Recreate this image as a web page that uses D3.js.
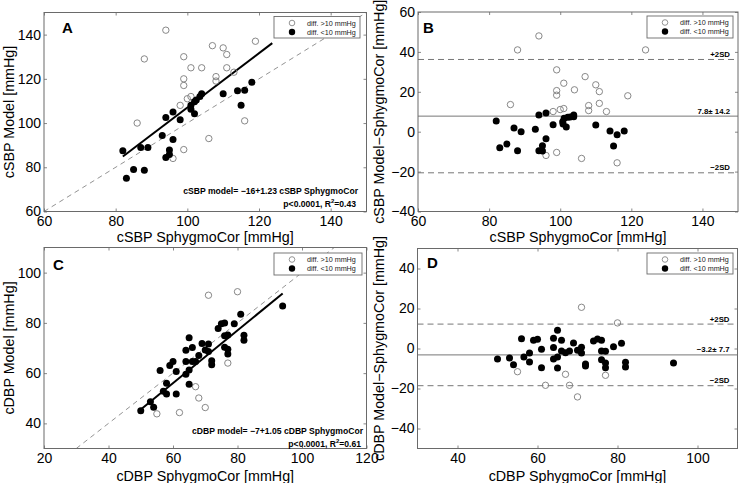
<!DOCTYPE html>
<html><head><meta charset="utf-8">
<script src="https://cdn.jsdelivr.net/npm/d3@7"></script>
<style>
html,body{margin:0;padding:0;background:#fff;}
svg{display:block;font-family:"Liberation Sans",Arial,Helvetica,sans-serif;}
</style></head>
<body><svg id="chart" width="739" height="483"></svg>
<script>
// ---------- DATA ----------
const aOpenX = [94,88,119,107,110,111,99,101,104,111,113,108,108,99,99,101,100,98,86,106,116,99,96];
const aOpenY = [142,129,137,135,134,131,130,125,125,125,123,121,119,120,117,112,111,108,100,93,101,88,84];
const aFillX = [82,83,85,88,87,89,93,94,96,98,96,95,95,94,101,102,102.5,103.5,104,101,102,110,114,116,118,115];
const aFillY = [87.5,75,79,78.6,89,89,94.4,102.5,105,101.5,92.6,87.8,85.8,84.4,108,109.6,110.4,112,113.2,106.2,104.2,113.2,114.6,114.8,118.4,108];

const bOpenX = [94,88,124,99,107,101,110,111,104,99,99,119,86,108,108,111,98,100,101,113,96,99,106,116];
const bOpenY = [48,41,41,31,27.6,24.3,23.5,20.1,21,20.6,18.3,18,13.6,13.1,10.6,14.2,10.1,11.1,11.6,10.1,-11.9,-10.4,-13.4,-15.6];
const bFillX = [82,83,85,87,89,88,93,94,96,98,96,95,94,95,100.7,101.1,102.1,102.8,103.8,103.8,101.7,100.8,110,114,116,118,115];
const bFillY = [5.4,-8,-6.2,1.8,0,-9.5,1.2,8.4,9.4,3.5,-3.5,-7,-9.5,-9.7,5,6.7,7.2,7.4,8.4,7.5,2.3,3.9,3.4,0.3,-1.5,0.3,-7.2];

const cOpenX = [71,80,77,67,68,70,62,55];
const cOpenY = [91,92.4,64,54.6,50.1,46.3,44.3,43.8];
const cFillX = [50,53,54,57,58,58,56,59,60,61,61,64,65,65,64,64,65,66,66,67,68,69,70,71,71,72,72,74,75,76,76,77,76,77,77,79,81,82,82,94];
const cFillY = [45,48.6,46.4,52.8,51.7,56,61,63,64.6,60.6,51.7,59.6,61.2,55.6,64.6,69.1,74.1,70.2,64.6,64.6,67,71.8,69.2,71.6,68.6,64.9,63.3,77.8,79.7,80,74.9,75.2,70.3,69.5,67.6,79.7,83.4,75.1,73.1,86.7];

const dOpenX = [71,80,55,67,77,62,68,70];
const dOpenY = [20.6,12.8,-11.6,-12.9,-13.4,-18.4,-18.4,-24.2];
const dFillX = [50,53,54,56,56.6,58,58,59,60,61,61,64,65,66,64,64,65,65,66,67,68,69,70,71,71,72,72,74,75,76,76,77,76,77,77,79,81,82,82,94];
const dFillY = [-5.2,-4.7,-8.1,4.9,-4.2,-2.2,-6.7,4.1,4.6,-0.4,-9.6,5.1,9.1,4.1,0.5,-5.2,-4.2,-9.7,-1.2,-2.1,-1.2,2.8,-0.9,-2.2,0.6,-7.7,-8.7,3.8,4.8,4.1,-1.2,-1.4,-5.6,-7.2,-9.6,0.9,2.6,-6.9,-9.2,-7.2];

// regression (intercept, slope, x-range)
const aReg = {b0:-16, b1:1.23, x0:82, x1:123.7};
const cReg = {b0:-7, b1:1.05, x0:50, x1:94};
// Bland-Altman stats
const bStats = {mean:7.8, sd:14.2, label:"7.8\u00b1 14.2"};
const dStats = {mean:-3.2, sd:7.7, label:"\u22123.2\u00b1 7.7"};

const ticksA = [60,80,100,120,140];
const ticksBx = [60,80,100,120,140];
const ticksBy = [-40,-20,0,20,40,60];
const ticksCx = [20,40,60,80,100,120];
const ticksCy = [40,60,80,100];
const ticksDx = [40,60,80,100];
const ticksDy = [-40,-20,0,20,40];

const legendLabels = ["diff. >10 mmHg","diff. <10 mmHg"];

// ---------- DRAW ----------
const svg = d3.select("#chart");
const AX = "#6a6a6a";

function panel(cfg){
  const x = d3.scaleLinear().domain(cfg.xd).range(cfg.xr);
  const y = d3.scaleLinear().domain(cfg.yd).range(cfg.yr);
  const g = svg.append("g");
  const clipId = "clip"+cfg.letter;
  g.append("clipPath").attr("id",clipId).append("rect")
    .attr("x",cfg.xr[0]).attr("y",cfg.yr[1]).attr("width",cfg.xr[1]-cfg.xr[0]).attr("height",cfg.yr[0]-cfg.yr[1]);

  const tl = 3;
  const styleAxis = (sel, labels) => {
    sel.select(".domain").remove();
    sel.selectAll(".tick line").attr("stroke",AX).attr("stroke-width",0.8);
    sel.selectAll(".tick text").attr("fill","#000").style("font-size","14px");
    if(!labels) sel.selectAll(".tick text").remove();
  };
  g.append("g").attr("transform",`translate(0,${cfg.yr[0]})`)
    .call(d3.axisBottom(x).tickValues(cfg.xt).tickSizeInner(-tl).tickSizeOuter(0).tickPadding(5).tickFormat(d3.format("d")))
    .call(s=>styleAxis(s,true));
  g.append("g").attr("transform",`translate(0,${cfg.yr[1]})`)
    .call(d3.axisTop(x).tickValues(cfg.xt).tickSizeInner(-tl).tickSizeOuter(0))
    .call(s=>styleAxis(s,false));
  g.append("g").attr("transform",`translate(${cfg.xr[0]},0)`)
    .call(d3.axisLeft(y).tickValues(cfg.yt).tickSizeInner(-tl).tickSizeOuter(0).tickPadding(3).tickFormat(d=>d<0?"\u2212"+Math.abs(d):d))
    .call(s=>styleAxis(s,true));
  g.append("g").attr("transform",`translate(${cfg.xr[1]},0)`)
    .call(d3.axisRight(y).tickValues(cfg.yt).tickSizeInner(-tl).tickSizeOuter(0))
    .call(s=>styleAxis(s,false));

  const plot = g.append("g").attr("clip-path",`url(#${clipId})`);

  if(cfg.identity){
    plot.append("line")
      .attr("x1",x(cfg.identity[0])).attr("y1",y(cfg.identity[0]))
      .attr("x2",x(cfg.identity[1])).attr("y2",y(cfg.identity[1]))
      .attr("stroke","#777").attr("stroke-width",0.8).attr("stroke-dasharray","5,4");
  }
  if(cfg.reg){
    const r = cfg.reg;
    plot.append("line")
      .attr("x1",x(r.x0)).attr("y1",y(r.b0+r.b1*r.x0))
      .attr("x2",x(r.x1)).attr("y2",y(r.b0+r.b1*r.x1))
      .attr("stroke","#000").attr("stroke-width",2);
  }
  if(cfg.stats){
    const s = cfg.stats;
    const lines = [
      {v:s.mean+2*s.sd, dash:"6,4", t:"+2SD"},
      {v:s.mean, dash:null, t:s.label},
      {v:s.mean-2*s.sd, dash:"6,4", t:"\u22122SD"}
    ];
    lines.forEach(l=>{
      plot.append("line").attr("x1",cfg.xr[0]).attr("x2",cfg.xr[1])
        .attr("y1",y(l.v)).attr("y2",y(l.v))
        .attr("stroke","#777").attr("stroke-width",1)
        .attr("stroke-dasharray",l.dash);
      g.append("text").attr("x",cfg.xr[1]-8).attr("y",y(l.v)-2.5)
        .attr("text-anchor","end").style("font-size","7.8px").style("font-weight","bold")
        .text(l.t);
    });
  }
  const openPts = cfg.openX.map((v,i)=>[v,cfg.openY[i]]);
  const fillPts = cfg.fillX.map((v,i)=>[v,cfg.fillY[i]]);
  plot.selectAll(".op").data(openPts).join("circle")
    .attr("cx",d=>x(d[0])).attr("cy",d=>y(d[1])).attr("r",3.2)
    .attr("fill","none").attr("stroke","#7a7a7a").attr("stroke-width",0.9);
  plot.selectAll(".fp").data(fillPts).join("circle")
    .attr("cx",d=>x(d[0])).attr("cy",d=>y(d[1])).attr("r",3.5)
    .attr("fill","#000");

  // border box
  g.append("rect").attr("x",cfg.xr[0]).attr("y",cfg.yr[1])
    .attr("width",cfg.xr[1]-cfg.xr[0]).attr("height",cfg.yr[0]-cfg.yr[1])
    .attr("fill","none").attr("stroke",AX).attr("stroke-width",1);

  // legend
  const L = cfg.legend;
  const lg = g.append("g");
  lg.append("rect").attr("x",L[0]).attr("y",L[1]).attr("width",L[2]).attr("height",L[3])
    .attr("fill","#fff").attr("stroke",AX).attr("stroke-width",0.9);
  legendLabels.forEach((t,i)=>{
    const cy = L[1]+6.5+i*9;
    lg.append("circle").attr("cx",L[0]+18).attr("cy",cy).attr("r",i===0?2.8:3.2)
      .attr("fill",i===0?"none":"#000").attr("stroke",i===0?"#7a7a7a":"none").attr("stroke-width",0.8);
    lg.append("text").attr("x",L[0]+33).attr("y",cy+2.6).style("font-size","7.2px").attr("fill","#222").text(t);
  });

  // panel letter
  g.append("text").attr("x",cfg.letterPos[0]).attr("y",cfg.letterPos[1])
    .style("font-size","15px").style("font-weight","bold").text(cfg.letter);

  // axis labels
  g.append("text").attr("x",(cfg.xr[0]+cfg.xr[1])/2).attr("y",cfg.xlabY)
    .attr("text-anchor","middle").style("font-size","14.3px").text(cfg.xlab);
  g.append("text").attr("transform",`translate(${cfg.ylabX},${(cfg.yr[0]+cfg.yr[1])/2}) rotate(-90)`)
    .attr("text-anchor","middle").style("font-size","14.3px").text(cfg.ylab);

  // regression annotation
  if(cfg.annot){
    g.append("text").attr("x",cfg.annot.x).attr("y",cfg.annot.y)
      .attr("text-anchor","end").style("font-size","8.6px").style("font-weight","bold").text(cfg.annot.l1);
    const t2 = g.append("text").attr("x",cfg.annot.x-2).attr("y",cfg.annot.y+12.5)
      .attr("text-anchor","end").style("font-size","8.6px").style("font-weight","bold");
    t2.append("tspan").text("p<0.0001, R");
    t2.append("tspan").attr("dy",-3.5).style("font-size","6px").text("2");
    t2.append("tspan").attr("dy",3.5).text("=" + cfg.annot.r2);
  }
}

panel({letter:"A", xd:[60,150], xr:[44,366.5], yd:[60,150], yr:[211.5,12.5],
  xt:ticksA, yt:ticksA, identity:[60,150], reg:aReg,
  openX:aOpenX, openY:aOpenY, fillX:aFillX, fillY:aFillY,
  legend:[274,16.5,86,21.5], letterPos:[62,33],
  xlab:"cSBP SphygmoCor [mmHg]", xlabY:242, ylab:"cSBP Model [mmHg]", ylabX:14,
  annot:{x:358, y:194, l1:"cSBP model= \u221216+1.23 cSBP SphygmoCor", r2:"0.43"}});

panel({letter:"B", xd:[60,150], xr:[418,738], yd:[-40,60], yr:[211.5,12],
  xt:ticksBx, yt:ticksBy, stats:bStats,
  openX:bOpenX, openY:bOpenY, fillX:bFillX, fillY:bFillY,
  legend:[647,16,86,22], letterPos:[423,33],
  xlab:"cSBP SphygmoCor [mmHg]", xlabY:242, ylab:"cSBP Model\u2212SphygmoCor [mmHg]", ylabX:384});

panel({letter:"C", xd:[20,120], xr:[44,366.5], yd:[30,110], yr:[448.5,247.5],
  xt:ticksCx, yt:ticksCy, identity:[30,110], reg:cReg,
  openX:cOpenX, openY:cOpenY, fillX:cFillX, fillY:cFillY,
  legend:[274,253,88,22], letterPos:[53,270],
  xlab:"cDBP SphygmoCor [mmHg]", xlabY:481, ylab:"cDBP Model [mmHg]", ylabX:14,
  annot:{x:363, y:434, l1:"cDBP model= \u22127+1.05 cDBP SphygmoCor", r2:"0.61"}});

panel({letter:"D", xd:[30,110], xr:[417.5,737.5], yd:[-50,50], yr:[448.5,248.5],
  xt:ticksDx, yt:ticksDy, stats:dStats,
  openX:dOpenX, openY:dOpenY, fillX:dFillX, fillY:dFillY,
  legend:[647,253,86,21], letterPos:[427,268],
  xlab:"cDBP SphygmoCor [mmHg]", xlabY:481, ylab:"cDBP Model\u2212SphygmoCor [mmHg]", ylabX:384});
</script>
</body></html>
